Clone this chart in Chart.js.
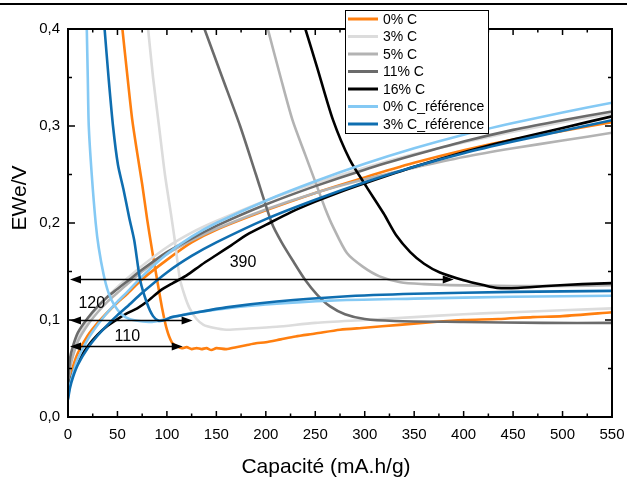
<!DOCTYPE html>
<html>
<head>
<meta charset="utf-8">
<script src="https://cdn.jsdelivr.net/npm/chart.js@4.4.0/dist/chart.umd.min.js"></script>
<style>
  html, body { margin: 0; padding: 0; background: #fff; }
</style>
</head>
<body>
<canvas id="capa" width="627" height="478"></canvas>
<script>
const FONT = '"Liberation Sans", Arial, sans-serif';

const seriesLabels = ['0% C', '3% C', '5% C', '11% C', '16% C', '0% C_référence', '3% C_référence'];
const seriesColors = ['#ff7f0f', '#dcdcdc', '#b3b3b3', '#6b6b6b', '#000000', '#84c9f4', '#0f6eb0'];

const xTicks = [0, 50, 100, 150, 200, 250, 300, 350, 400, 450, 500, 550];
const yTicks = [0, 0.1, 0.2, 0.3, 0.4];

// charge branches (rising from 0)
const chargeX = [0, 2, 5, 10, 20, 30, 40, 50, 60, 75, 100, 125, 150, 200, 250, 300, 350, 400, 450, 500, 550];
const c0ChargeY = [0.025, 0.04, 0.052, 0.066, 0.084, 0.097, 0.108, 0.118, 0.127, 0.142, 0.162, 0.18, 0.193, 0.213, 0.231, 0.247, 0.262, 0.275, 0.286, 0.295, 0.304];
const c3ChargeY = [0.035, 0.055, 0.068, 0.083, 0.1, 0.113, 0.124, 0.134, 0.143, 0.156, 0.175, 0.19, 0.202, 0.223, 0.241, 0.257, 0.271, 0.283, 0.294, 0.304, 0.313];
const c5ChargeY = [0.03, 0.05, 0.063, 0.078, 0.095, 0.108, 0.119, 0.128, 0.137, 0.15, 0.168, 0.182, 0.194, 0.214, 0.231, 0.245, 0.257, 0.268, 0.277, 0.285, 0.293];
const c11ChargeY = [0.035, 0.06, 0.073, 0.087, 0.102, 0.114, 0.124, 0.132, 0.14, 0.152, 0.17, 0.184, 0.197, 0.219, 0.238, 0.255, 0.27, 0.284, 0.296, 0.306, 0.315];
const ref0ChargeY = [0.02, 0.033, 0.045, 0.06, 0.08, 0.095, 0.108, 0.119, 0.129, 0.145, 0.168, 0.186, 0.2, 0.223, 0.243, 0.261, 0.277, 0.291, 0.303, 0.314, 0.324];
const ref3ChargeY = [0.018, 0.03, 0.041, 0.054, 0.071, 0.084, 0.095, 0.105, 0.114, 0.128, 0.149, 0.166, 0.18, 0.204, 0.224, 0.242, 0.258, 0.272, 0.284, 0.295, 0.306];
const c16ChargeX = [0, 2, 5, 10, 20, 30, 40, 50, 60, 70, 80, 93, 106, 120, 135, 150, 165, 181, 200, 225, 250, 275, 300, 350, 400, 450, 500, 550];
const c16ChargeY = [0.025, 0.035, 0.045, 0.057, 0.073, 0.085, 0.094, 0.101, 0.107, 0.112, 0.119, 0.13, 0.138, 0.146, 0.157, 0.167, 0.177, 0.188, 0.198, 0.211, 0.222, 0.232, 0.241, 0.258, 0.273, 0.286, 0.298, 0.31];

// discharge branches (falling from 0,4 V)
const c0DisX = [55, 60, 65, 70, 75, 80, 85, 90, 95, 100, 105, 110, 115, 120, 125, 130, 135, 140, 145, 150, 160, 170, 180, 190, 200, 215, 230, 250, 275, 300, 335, 370, 400, 435, 470, 500, 550];
const c0DisY = [0.4, 0.352, 0.306, 0.272, 0.24, 0.204, 0.172, 0.142, 0.113, 0.09, 0.077, 0.073, 0.071, 0.072, 0.07, 0.071, 0.07, 0.071, 0.069, 0.071, 0.07, 0.072, 0.074, 0.076, 0.077, 0.08, 0.083, 0.086, 0.09, 0.092, 0.095, 0.098, 0.1, 0.101, 0.103, 0.104, 0.108];
const c3DisX = [81, 86, 92, 98, 104, 108, 113, 118, 123, 130, 137, 147, 160, 180, 211, 250, 300, 350, 400, 450, 500, 550];
const c3DisY = [0.4, 0.35, 0.3, 0.25, 0.21, 0.182, 0.143, 0.125, 0.112, 0.101, 0.095, 0.092, 0.09, 0.091, 0.093, 0.097, 0.1, 0.103, 0.106, 0.108, 0.11, 0.112];
const c5DisX = [202, 215, 227, 240, 252, 260, 268, 282, 298, 315, 336, 360, 386, 450, 500, 550];
const c5DisY = [0.4, 0.35, 0.306, 0.27, 0.237, 0.215, 0.196, 0.169, 0.155, 0.145, 0.139, 0.137, 0.136, 0.135, 0.135, 0.136];
const c11DisX = [138, 156, 174, 190, 206, 216, 228, 240, 252, 265, 280, 300, 330, 400, 480, 550];
const c11DisY = [0.4, 0.35, 0.3, 0.25, 0.2, 0.18, 0.16, 0.141, 0.126, 0.114, 0.106, 0.101, 0.099, 0.098, 0.097, 0.097];
const c16DisX = [240, 252, 268, 285, 302, 319, 332, 346, 360, 376, 400, 420, 434, 455, 484, 520, 550];
const c16DisY = [0.4, 0.36, 0.306, 0.265, 0.237, 0.21, 0.187, 0.17, 0.158, 0.149, 0.141, 0.136, 0.133, 0.133, 0.135, 0.137, 0.138];
const ref0DisX = [19, 20, 21, 24, 28, 31, 36, 41, 47, 54, 62, 72, 85, 95, 110, 130, 160, 200, 265, 350, 450, 550];
const ref0DisY = [0.4, 0.35, 0.3, 0.25, 0.2, 0.175, 0.147, 0.128, 0.115, 0.106, 0.101, 0.099, 0.098, 0.1, 0.104, 0.108, 0.112, 0.116, 0.12, 0.122, 0.124, 0.125];
const ref3DisX = [37, 41, 45.5, 50.5, 56, 62, 67, 73, 80, 86, 92, 98, 105, 126, 160, 211, 275, 350, 450, 550];
const ref3DisY = [0.4, 0.35, 0.3, 0.26, 0.235, 0.205, 0.182, 0.141, 0.117, 0.104, 0.099, 0.1, 0.103, 0.107, 0.113, 0.119, 0.124, 0.127, 0.129, 0.13];

// capacity arrows
const arrowY = [0.142, 0.1, 0.073];
const arrowEnd = [390, 126, 116];
const arrowText = ['390', '120', '110'];
const arrowTextX = [177, 24, 60];
const arrowTextY = [0.159, 0.117, 0.083];

function zipPts(xs, ys) {
  return xs.map((x, i) => ({ x: x, y: ys[i] }));
}

const chargeData = [
  zipPts(chargeX, c0ChargeY), zipPts(chargeX, c3ChargeY), zipPts(chargeX, c5ChargeY),
  zipPts(chargeX, c11ChargeY), zipPts(c16ChargeX, c16ChargeY),
  zipPts(chargeX, ref0ChargeY), zipPts(chargeX, ref3ChargeY)
];
const dischargeData = [
  zipPts(c0DisX, c0DisY), zipPts(c3DisX, c3DisY), zipPts(c5DisX, c5DisY),
  zipPts(c11DisX, c11DisY), zipPts(c16DisX, c16DisY),
  zipPts(ref0DisX, ref0DisY), zipPts(ref3DisX, ref3DisY)
];

// two datasets per series; array reversed so the last series ends up on top
const datasets = [];
seriesLabels.forEach((lab, i) => {
  [chargeData[i], dischargeData[i]].forEach(pts => {
    datasets.unshift({
      label: lab,
      data: pts,
      borderColor: seriesColors[i],
      backgroundColor: seriesColors[i],
      borderWidth: 2.6,
      pointRadius: 0,
      showLine: true,
      fill: false,
      tension: 0.25
    });
  });
});

function arrowHead(ctx, x, y, dir) {
  ctx.beginPath();
  ctx.moveTo(x, y);
  ctx.lineTo(x - dir * 11, y - 4);
  ctx.lineTo(x - dir * 11, y + 4);
  ctx.closePath();
  ctx.fill();
}

const decor = {
  id: 'decor',
  afterDraw(chart) {
    const ctx = chart.ctx;
    const xs = chart.scales.x, ys = chart.scales.y;
    const L = xs.getPixelForValue(0), R = xs.getPixelForValue(550);
    const T = ys.getPixelForValue(0.4), B = ys.getPixelForValue(0);
    ctx.save();

    // frame
    ctx.strokeStyle = '#000000';
    ctx.lineWidth = 2;
    ctx.beginPath();
    ctx.rect(L, T, R - L, B - T);
    ctx.stroke();

    // inward ticks on all four sides
    ctx.lineWidth = 1.5;
    for (let v = 0; v <= 550; v += 25) {
      const px = xs.getPixelForValue(v);
      const len = v % 50 === 0 ? 6 : 3.5;
      ctx.beginPath();
      ctx.moveTo(px, B); ctx.lineTo(px, B - len);
      ctx.moveTo(px, T); ctx.lineTo(px, T + len);
      ctx.stroke();
    }
    for (let k = 0; k <= 8; k++) {
      const py = ys.getPixelForValue(k * 0.05);
      const len = k % 2 === 0 ? 7 : 4;
      ctx.beginPath();
      ctx.moveTo(L, py); ctx.lineTo(L + len, py);
      ctx.moveTo(R, py); ctx.lineTo(R - len, py);
      ctx.stroke();
    }

    // rule at very top of the figure
    ctx.lineWidth = 2;
    ctx.beginPath();
    ctx.moveTo(0, 4); ctx.lineTo(chart.width, 4);
    ctx.stroke();

    // arrows + labels
    ctx.fillStyle = '#000000';
    ctx.lineWidth = 1.5;
    arrowY.forEach((v, i) => {
      const py = Math.round(ys.getPixelForValue(v)) + 0.5;
      const x0 = L + 2;
      const x1 = xs.getPixelForValue(arrowEnd[i]);
      ctx.beginPath();
      ctx.moveTo(x0 + 4, py);
      ctx.lineTo(x1 - 4, py);
      ctx.stroke();
      arrowHead(ctx, x0, py, -1);
      arrowHead(ctx, x1, py, 1);
      ctx.font = '16px ' + FONT;
      ctx.textAlign = 'center';
      ctx.textBaseline = 'middle';
      ctx.fillText(arrowText[i], xs.getPixelForValue(arrowTextX[i]), ys.getPixelForValue(arrowTextY[i]));
    });

    // axis titles
    ctx.font = '21px ' + FONT;
    ctx.textAlign = 'center';
    ctx.textBaseline = 'middle';
    ctx.fillText('Capacité (mA.h/g)', 326, 467);
    ctx.save();
    ctx.translate(20, 198);
    ctx.rotate(-Math.PI / 2);
    ctx.fillText('EWe/V', 0, 0);
    ctx.restore();

    // legend box
    const lx = 345, ly = 10, lw = 143, lh = 123;
    ctx.fillStyle = '#fff';
    ctx.fillRect(lx, ly, lw, lh);
    ctx.strokeStyle = '#000';
    ctx.lineWidth = 1;
    ctx.strokeRect(lx + 0.5, ly + 0.5, lw, lh);
    ctx.font = '14px ' + FONT;
    ctx.textAlign = 'left';
    seriesLabels.forEach((lab, i) => {
      const ry = 19 + i * 17.5;
      ctx.strokeStyle = seriesColors[i];
      ctx.lineWidth = 3;
      ctx.beginPath();
      ctx.moveTo(348, ry); ctx.lineTo(378, ry);
      ctx.stroke();
      ctx.fillStyle = '#000';
      ctx.fillText(lab, 383, ry + 1);
    });
    ctx.restore();
  }
};

new Chart(document.getElementById('capa'), {
  type: 'scatter',
  data: { datasets: datasets },
  options: {
    responsive: false,
    animation: false,
    layout: { padding: { top: 29, right: 15, left: 0, bottom: 0 } },
    plugins: { legend: { display: false }, tooltip: { enabled: false } },
    scales: {
      x: {
        type: 'linear', min: 0, max: 550,
        afterFit(s) { s.height = 61; s.paddingRight = 0; s.paddingLeft = 0; },
        afterBuildTicks(s) { s.ticks = xTicks.map(v => ({ value: v })); },
        grid: { display: false, drawTicks: false },
        border: { display: false },
        ticks: { padding: 9, color: '#000', maxRotation: 0, autoSkip: false, font: { family: FONT, size: 15 } }
      },
      y: {
        type: 'linear', min: 0, max: 0.4,
        afterFit(s) { s.width = 68; },
        afterBuildTicks(s) { s.ticks = yTicks.map(v => ({ value: v })); },
        grid: { display: false, drawTicks: false },
        border: { display: false },
        ticks: {
          padding: 8, color: '#000', font: { family: FONT, size: 15 },
          callback: v => v.toFixed(1).replace('.', ',')
        }
      }
    }
  },
  plugins: [decor]
});
</script>
</body>
</html>
